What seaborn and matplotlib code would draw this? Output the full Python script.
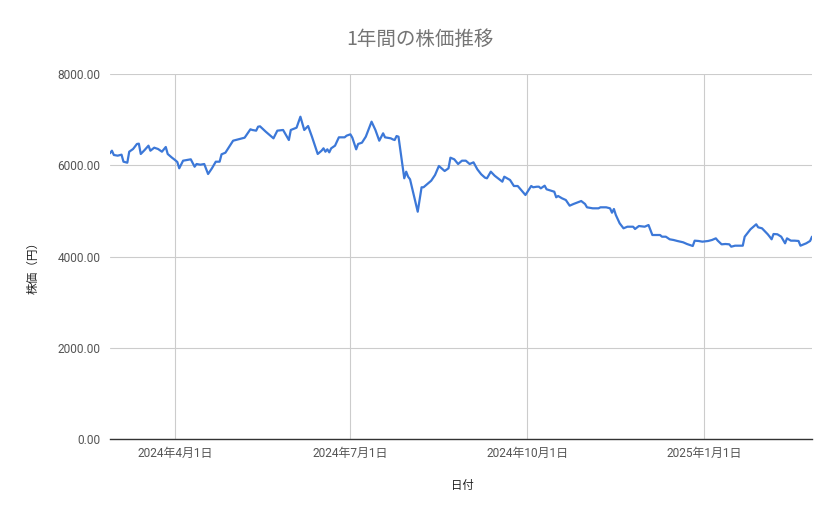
import numpy as np
import pandas as pd
import matplotlib
matplotlib.use("Agg")
import matplotlib.pyplot as plt
import matplotlib.dates as mdates
import seaborn as sns

# Days offset from 2024-04-01 and closing prices
day_offsets = [
    -34, -33, -32, -30, -28, -27, -25, -24, -22, -20, -19, -18, -16, -14, -13, -11, -9, -7, -5, -4,
    -2, 0, 1, 2, 4, 8, 10, 11, 13, 15, 17, 19, 21, 23, 24, 26, 30, 36, 39, 40,
    42, 43, 44, 47, 49, 51, 53, 56, 57, 59, 60, 63, 65, 67, 69, 71, 74, 76, 77, 78,
    79, 80, 81, 83, 85, 88, 89, 91, 92, 94, 95, 97, 99, 102, 104, 106, 108, 109, 112, 113,
    114, 115, 116, 119, 120, 121, 122, 126, 128, 129, 131, 133, 135, 137, 140, 142, 143, 145, 147, 149,
    151, 153, 155, 157, 159, 161, 162, 164, 166, 170, 171, 174, 176, 178, 182, 185, 186, 188, 189, 190,
    192, 193, 197, 198, 199, 201, 203, 205, 207, 210, 211, 213, 214, 217, 220, 221, 224, 226, 227, 228,
    229, 231, 233, 235, 238, 239, 241, 244, 246, 248, 250, 252, 253, 255, 257, 259, 261, 264, 266, 269,
    270, 272, 274, 277, 279, 281, 282, 284, 286, 288, 289, 291, 295, 296, 299, 302, 303, 305, 308, 309,
    310, 311, 313, 315, 317, 318, 320, 322, 324, 325, 328, 330, 331,
]
prices = [
    6262, 6319, 6225, 6210, 6232, 6078, 6056, 6297, 6356, 6466, 6473, 6247, 6334, 6429, 6319, 6385, 6356, 6297, 6400, 6247,
    6174, 6108, 6071, 5933, 6100, 6130, 5968, 6027, 6012, 6027, 5808, 5933, 6078, 6078, 6240, 6275, 6538, 6604, 6788, 6773,
    6758, 6845, 6853, 6735, 6663, 6590, 6758, 6773, 6700, 6553, 6773, 6823, 7064, 6773, 6860, 6626, 6247, 6319, 6371, 6297,
    6349, 6283, 6371, 6429, 6612, 6612, 6648, 6678, 6604, 6349, 6466, 6495, 6626, 6955, 6773, 6538, 6700, 6612, 6590, 6568,
    6553, 6640, 6626, 5714, 5859, 5749, 5692, 4982, 5517, 5517, 5589, 5661, 5786, 5984, 5874, 5933, 6166, 6130, 6027, 6100,
    6100, 6027, 6064, 5911, 5802, 5727, 5714, 5859, 5771, 5640, 5749, 5677, 5545, 5545, 5348, 5545, 5517, 5530, 5530, 5494,
    5552, 5473, 5420, 5298, 5326, 5276, 5238, 5114, 5151, 5201, 5216, 5151, 5078, 5056, 5056, 5078, 5078, 5056, 4960, 5041,
    4910, 4727, 4618, 4653, 4653, 4603, 4668, 4653, 4690, 4471, 4471, 4471, 4434, 4434, 4377, 4362, 4340, 4311, 4274, 4230,
    4347, 4340, 4325, 4340, 4362, 4398, 4347, 4267, 4274, 4267, 4215, 4237, 4237, 4434, 4596, 4706, 4640, 4618, 4487, 4434,
    4377, 4493, 4487, 4434, 4289, 4398, 4347, 4347, 4340, 4237, 4289, 4340, 4434,
]
y_ticks = [0, 2000, 4000, 6000, 8000]
x_tick_dates = ["2024-04-01", "2024-07-01", "2024-10-01", "2025-01-01"]
x_tick_labels = ["2024年4月1日", "2024年7月1日", "2024年10月1日", "2025年1月1日"]
title_text = "1年間の株価推移"
x_label = "日付"
y_label = "株価（円）"

base = pd.Timestamp("2024-04-01")
df = pd.DataFrame({
    "日付": [base + pd.Timedelta(days=d) for d in day_offsets],
    "株価": prices,
})

sns.set_theme(style="white")
plt.rcParams["font.family"] = ["Roboto", "Noto Sans CJK JP", "DejaVu Sans"]

fig = plt.figure(figsize=(8.39, 5.19), dpi=100)
ax = fig.add_axes([110 / 839, 1 - 439 / 519, 702 / 839, 365 / 519])

sns.lineplot(data=df, x="日付", y="株価", ax=ax, color="#3c78d8", linewidth=1.6)

ax.set_xlim(df["日付"].min(), df["日付"].max())
ax.set_ylim(0, 8000)
ax.set_yticks(y_ticks)
ax.set_yticklabels([f"{v:.2f}" for v in y_ticks])
ax.set_xticks(pd.to_datetime(x_tick_dates))
ax.set_xticklabels(x_tick_labels)

ax.grid(True, color="#cccccc", linewidth=0.8)
ax.set_axisbelow(True)
for s in ["top", "right", "left"]:
    ax.spines[s].set_visible(False)
ax.spines["bottom"].set_color("#333333")
ax.spines["bottom"].set_linewidth(1.0)
ax.spines["bottom"].set_zorder(3)

ax.tick_params(axis="both", length=0, labelsize=8.6, labelcolor="#555555")
ax.tick_params(axis="y", pad=7)
ax.tick_params(axis="x", pad=6)

ax.set_xlabel("")
ax.set_ylabel("")
fig.text(462 / 839, 1 - 485 / 519, x_label, ha="center", va="center",
         fontsize=8.2, color="#222222", family=["Noto Sans CJK JP", "DejaVu Sans"])
fig.text(33 / 839, 1 - 265 / 519, y_label, ha="center", va="center", rotation=90,
         fontsize=8.4, color="#222222", family=["Noto Sans CJK JP", "DejaVu Sans"])
fig.text(420 / 839, 1 - 39 / 519, title_text, ha="center", va="center",
         fontsize=14, color="#757575", family=["Noto Sans CJK JP", "DejaVu Sans"])

fig.savefig("out.png", dpi=100, facecolor="white")
